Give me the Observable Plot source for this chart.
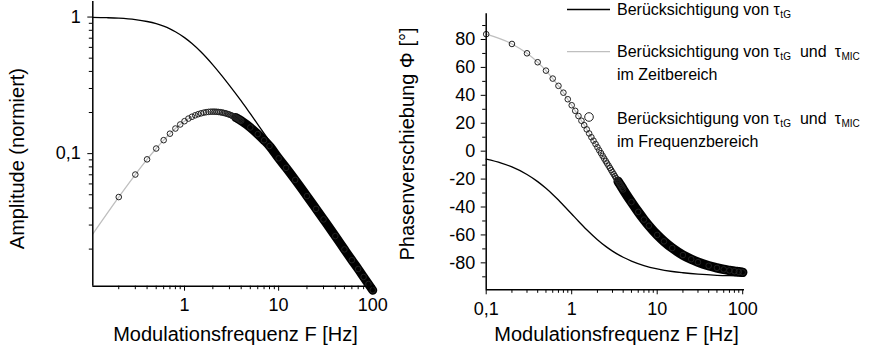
<!DOCTYPE html>
<html><head><meta charset="utf-8">
<script src="https://cdn.jsdelivr.net/npm/d3@7"></script>
<script src="https://cdn.jsdelivr.net/npm/@observablehq/plot@0.6"></script>
<style>
html,body{margin:0;padding:0;background:#fff;}
#chart{position:relative;width:874px;height:354px;overflow:hidden;font-family:"Liberation Sans",Arial,sans-serif;background:#fff;}
#left,#right{position:absolute;top:0;}
#left{left:0}
#right{left:390px}
.lg{position:absolute;left:617px;font-size:16px;line-height:23px;white-space:nowrap;color:#000}
.lg sub{font-size:10px;vertical-align:-3px;line-height:0;margin-left:0.5px}
.lg .u{margin:0 8px 0 9px}
svg.sw{position:absolute;left:0;top:0;overflow:visible;pointer-events:none}
</style></head>
<body>
<div id="chart">
  <div id="left"></div>
  <div id="right"></div>
  <svg class="sw" width="874" height="354">
    <line x1="567" x2="610" y1="9.5" y2="9.5" stroke="#000" stroke-width="1.3"></line>
    <line x1="567" x2="610" y1="51.7" y2="51.7" stroke="#bfbfbf" stroke-width="1.3"></line>
    <circle cx="589" cy="117" r="4.3" fill="none" stroke="#222" stroke-width="1"></circle>
  </svg>
  <div class="lg" style="top:-2px">Berücksichtigung von τ<sub>tG</sub></div>
  <div class="lg" style="top:40px">Berücksichtigung von τ<sub>tG</sub><span class="u">und</span>τ<sub>MIC</sub><br>im Zeitbereich</div>
  <div class="lg" style="top:107px">Berücksichtigung von τ<sub>tG</sub><span class="u">und</span>τ<sub>MIC</sub><br>im Frequenzbereich</div>
</div>
<script>
// ---- data ----
// frequency grid of the circle / grey series (Hz)
const fCirc = [0.1,0.2,0.3,0.4,0.5,0.6,0.7,0.8,0.9,1.0,1.1,1.2,1.3,1.4,1.5,1.6,1.7,1.8,1.9,2.0,
  2.1,2.2,2.3,2.4,2.5,2.6,2.7,2.8,2.9,3.0,3.1,3.2,3.3,3.4,3.5,3.6,3.7,3.8,3.9,4,
  5,6,7,8,10,12,15,20,25,30,40,50,60,70,80,90,100];
const ampCirc = [0.0244,0.0481,0.0703,0.0908,0.109,0.1255,0.140,0.1527,0.1635,0.1728,0.1806,0.1863,0.1909,0.1946,0.1973,0.1995,0.2012,0.2022,0.2028,0.2030,
  0.2029,0.2025,0.2019,0.2011,0.2001,0.1989,0.1977,0.1963,0.1948,0.1932,0.1914,0.1896,0.1878,0.1859,0.1840,0.1820,0.1800,0.1780,0.1760,0.1740,
  0.1555,0.1390,0.1253,0.1137,0.0924,0.0787,0.0642,0.0489,0.0394,0.0330,0.0249,0.0199,0.0166,0.0143,0.0125,0.0111,0.0100];
const phaseCirc = [83.8,76.8,70.1,63.7,57.7,52.0,46.8,41.9,37.2,32.9,28.9,25.2,21.8,18.6,15.6,12.7,10.0,7.5,5.1,2.8,
  0.6,-1.4,-3.4,-5.3,-7.1,-8.8,-10.4,-12.0,-13.6,-15.1,-16.5,-17.9,-19.2,-20.5,-21.7,-22.9,-24.1,-25.2,-26.3,-27.4,
  -36.5,-43.5,-49.0,-53.4,-60.0,-64.6,-69.4,-74.4,-77.4,-79.5,-82.1,-83.6,-84.7,-85.4,-86.0,-86.4,-86.8];
// black series (only tau_tG)
const fLine = [0.1,0.15,0.2,0.3,0.4,0.5,0.6,0.7,0.8,1,1.2,1.5,2,2.5,3,4,5,7,10,15,20,30,50,70,100];
const ampLine = [0.995,0.989,0.981,0.958,0.928,0.894,0.857,0.819,0.781,0.707,0.640,0.555,0.447,0.371,0.316,0.243,0.196,0.141,0.0995,0.0665,0.0499,0.0333,0.0200,0.0143,0.0100];
const phaseLine = [-5.7,-8.5,-11.3,-16.7,-21.8,-26.6,-31.0,-35.0,-38.7,-45.0,-50.2,-56.3,-63.4,-68.2,-71.6,-76.0,-78.7,-81.9,-84.3,-86.2,-87.1,-88.1,-88.9,-89.2,-89.4];
// ticks
const xMajor = [0.1,1,10,100];
const xMinor = [0.2,0.3,0.4,0.5,0.6,0.7,0.8,0.9,2,3,4,5,6,7,8,9,20,30,40,50,60,70,80,90];
const ampMajor = [0.1,1];
const ampMinor = [0.02,0.03,0.04,0.05,0.06,0.07,0.08,0.09,0.2,0.3,0.4,0.5,0.6,0.7,0.8,0.9];
const phaseMajor = [-80,-60,-40,-20,0,20,40,60,80];
const phaseMinor = [-90,-70,-50,-30,-10,10,30,50,70,90];
const bandStart = 3.5; // above this frequency the circles merge into a solid band

const ampDomain = [0.0107, 1.3];
const fDomainL = [0.106, 107];
const fDomainR = [0.1, 105];
const phaseDomain = [-99.3, 98.4];

const circ = fCirc.map((f,i)=>({f, amp: ampCirc[i], phase: phaseCirc[i]}));
const blk = fLine.map((f,i)=>({f, amp: ampLine[i], phase: phaseLine[i]}));
const band = circ.filter(d => d.f >= bandStart);

const FONT = '"Liberation Sans", Arial, sans-serif';
const fmt = d => String(d).replace(".", ",");
const noLbl = () => "";

const left = Plot.plot({
  width: 390, height: 354,
  marginLeft: 92.3, marginRight: 15, marginTop: 1, marginBottom: 68.3,
  style: {fontFamily: FONT, fontSize: "18px", background: "transparent", overflow: "visible", color: "#000"},
  x: {type: "log", domain: fDomainL},
  y: {type: "log", domain: ampDomain},
  marks: [
    Plot.line(circ, {x: "f", y: "amp", stroke: "#bfbfbf", strokeWidth: 1.3, curve: "monotone-x", clip: true}),
    Plot.line(blk, {x: "f", y: "amp", stroke: "#000", strokeWidth: 1.3, curve: "monotone-x", clip: true}),
    Plot.line(band, {x: "f", y: "amp", stroke: "#000", strokeWidth: 9, strokeLinecap: "round", curve: "monotone-x"}),
    Plot.dot(circ.filter(d => d.f >= fDomainL[0]), {x: "f", y: "amp", r: 2.8, stroke: "#222", strokeWidth: 1, fill: "none"}),
    Plot.ruleX([fDomainL[0]], {stroke: "#000", strokeWidth: 1.5}),
    Plot.ruleY([ampDomain[0]], {stroke: "#000", strokeWidth: 1.5}),
    Plot.axisX(xMinor, {tickSize: 3.5, tickFormat: noLbl, label: null}),
    Plot.axisX(xMajor.filter(d => d >= fDomainL[0]), {tickSize: 5, tickPadding: 7, tickFormat: fmt, label: null, fontSize: 18}),
    Plot.axisY(ampMinor, {tickSize: 3.5, tickFormat: noLbl, label: null}),
    Plot.axisY(ampMajor, {tickSize: 5, tickPadding: 7, tickFormat: fmt, label: null, fontSize: 18}),
    Plot.text(["Amplitude (normiert)"], {text: d => d, frameAnchor: "left", textAnchor: "middle", rotate: -90, dx: -69, dy: 14.7, lineAnchor: "bottom", fontSize: 20}),
    Plot.text(["Modulationsfrequenz F [Hz]"], {text: d => d, frameAnchor: "bottom", textAnchor: "middle", dx: 1.3, dy: 54.3, lineAnchor: "bottom", fontSize: 20})
  ]
});
document.getElementById("left").append(left);

const right = Plot.plot({
  width: 484, height: 354,
  marginLeft: 95.7, marginRight: 130, marginTop: 13.3, marginBottom: 64.7,
  style: {fontFamily: FONT, fontSize: "18px", background: "transparent", overflow: "visible", color: "#000"},
  x: {type: "log", domain: fDomainR},
  y: {domain: phaseDomain},
  marks: [
    Plot.line(circ, {x: "f", y: "phase", stroke: "#bfbfbf", strokeWidth: 1.3, curve: "monotone-x"}),
    Plot.line(blk, {x: "f", y: "phase", stroke: "#000", strokeWidth: 1.3, curve: "monotone-x"}),
    Plot.line(band, {x: "f", y: "phase", stroke: "#000", strokeWidth: 9.5, strokeLinecap: "round", curve: "monotone-x"}),
    Plot.dot(circ, {x: "f", y: "phase", r: 2.8, stroke: "#222", strokeWidth: 1, fill: "none"}),
    Plot.ruleX([fDomainR[0]], {stroke: "#000", strokeWidth: 1.5}),
    Plot.ruleY([phaseDomain[0]], {stroke: "#000", strokeWidth: 1.5}),
    Plot.axisX(xMinor, {tickSize: 3.5, tickFormat: noLbl, label: null}),
    Plot.axisX(xMajor, {tickSize: 5, tickPadding: 7, tickFormat: fmt, label: null, fontSize: 18}),
    Plot.axisY(phaseMinor, {tickSize: 3.5, tickFormat: noLbl, label: null}),
    Plot.axisY(phaseMajor, {tickSize: 5, tickPadding: 6, tickFormat: d => String(d), label: null, fontSize: 18}),
    Plot.text(["Phasenverschiebung Φ [°]"], {text: d => d, frameAnchor: "left", textAnchor: "middle", rotate: -90, dx: -72.7, dy: -7.8, lineAnchor: "bottom", fontSize: 20}),
    Plot.text(["Modulationsfrequenz F [Hz]"], {text: d => d, frameAnchor: "bottom", textAnchor: "middle", dx: 1.2, dy: 50.7, lineAnchor: "bottom", fontSize: 20})
  ]
});
document.getElementById("right").append(right);
</script>
</body></html>
